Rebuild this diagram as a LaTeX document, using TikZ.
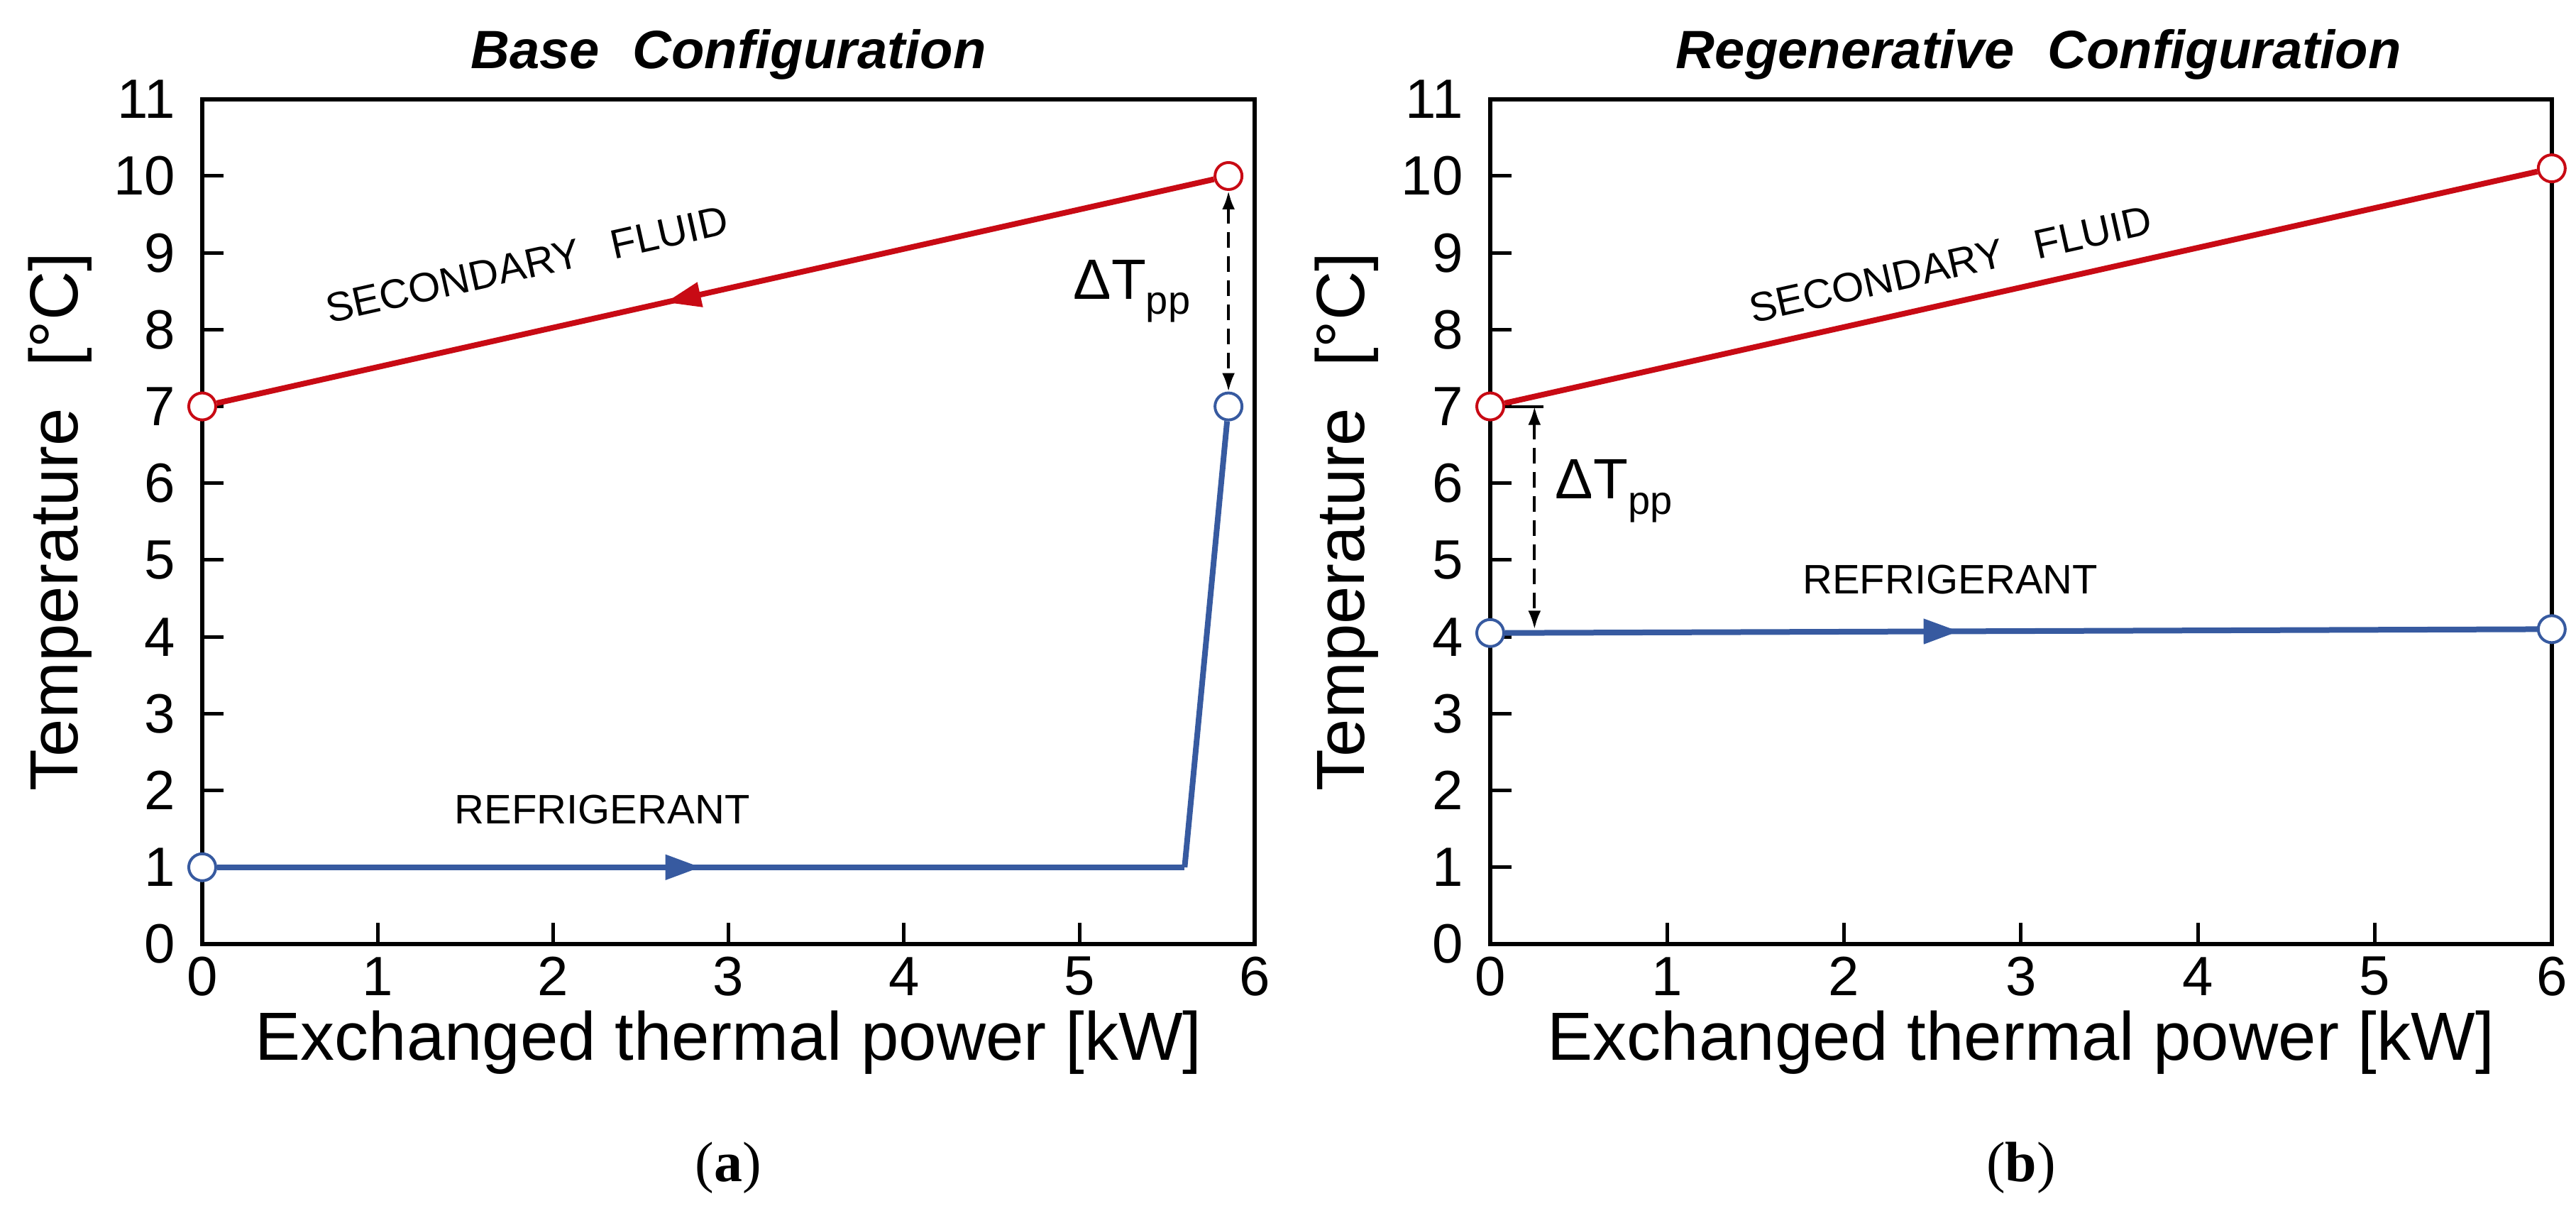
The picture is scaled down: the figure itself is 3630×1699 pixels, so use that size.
\documentclass[tikz,border=0pt]{standalone}
\usepackage{fontspec}
\setmainfont{Liberation Sans}
\newfontfamily\capfont{Liberation Serif}
\usetikzlibrary{arrows.meta,decorations.markings}
\definecolor{myred}{RGB}{200,10,20}
\definecolor{myblue}{RGB}{55,90,160}
\tikzset{
 frame/.style={line width=6pt},
 tk/.style={line width=5pt},
 sec/.style={myred,line width=8pt},
 ref/.style={myblue,line width=8pt},
 pt/.style={circle,line width=4pt,fill=white,minimum size=38pt,inner sep=0pt},
 midarrow/.style={postaction={decorate},decoration={markings,mark=at position #1 with {\arrow{Triangle[length=50pt,width=34pt]}}}},
 dtp/.style={line width=4pt,dash pattern=on 22pt off 12pt,{Latex[length=26pt,width=18pt]}-{Latex[length=26pt,width=18pt]}},
 ticklab/.style={font=\fontsize{78}{84}\selectfont},
 axlab/.style={font=\fontsize{96}{104}\selectfont},
 ttl/.style={font=\fontsize{76}{84}\selectfont\bfseries\itshape},
 curvelab/.style={font=\fontsize{58}{64}\selectfont},
 captxt/.style={font=\fontsize{80}{90}\selectfont\capfont},
}
\newcommand{\axesmine}{%
  \draw[frame] (0,0) rectangle (6,11);
  \foreach \i in {1,...,5} \draw[tk] (\i,0) -- (\i,0.28);
  \foreach \j in {1,...,10} \draw[tk] (0,\j) -- (0.12,\j);
  \foreach \i in {0,...,6} \node[ticklab] (xt\i) at (\i,-0.42) {\i};
  \foreach \j in {0,...,11} \node[ticklab,anchor=east] (yt\j) at (-0.14,\j) {\j};
  \node[axlab] (xl) at (3.0,-1.28) {Exchanged thermal power [kW]};
  \node[axlab,rotate=90] (yl) at (-0.81,5.5) {Temperature\,\, [°C]};
}
\begin{document}
\begin{tikzpicture}[x=1pt,y=1pt]
\useasboundingbox (0,0) rectangle (3630,1699);
% (a)
\begin{scope}[shift={(285,369)},x=247.2pt,y=108.2pt]
 \axesmine
 \node[ttl] (ta) at (3.0,11.58) {Base\,\, Configuration};
 \node[pt,draw=myred] (s1) at (0,7) {};
 \node[pt,draw=myred] (s2) at (5.85,10) {};
 \draw[sec,midarrow=0.55] (s2) -- (s1);
 \node[pt,draw=myblue] (r1) at (0,1) {};
 \coordinate (rk) at (5.6,1);
 \node[pt,draw=myblue] (r2) at (5.85,7) {};
 \draw[ref,midarrow=0.5] (r1) -- (rk);
 \draw[ref] (rk) -- (r2);
 \draw[dtp] (s2) -- (r2);
 \node[curvelab,rotate=12.6] (sl) at (1.85,8.85) {SECONDARY\,\,\, FLUID};
 \node[curvelab] (rl) at (2.28,1.75) {REFRIGERANT};
 \node[font=\fontsize{80}{86}\selectfont] (dl) at (5.3,8.5) {ΔT\textsubscript{pp}};
 \node[captxt] (ca) at (3.0,-2.91) {(\textbf{a})};
\end{scope}
% (b)
\begin{scope}[shift={(2100,369)},x=249.3pt,y=108.2pt]
 \axesmine
 \node[ttl] (tb) at (3.1,11.58) {Regenerative\,\, Configuration};
 \node[pt,draw=myred] (s1) at (0,7) {};
 \node[pt,draw=myred] (s2) at (6,10.1) {};
 \draw[sec] (s1) -- (s2);
 \node[pt,draw=myblue] (r1) at (0,4.05) {};
 \node[pt,draw=myblue] (r2) at (6,4.1) {};
 \draw[ref,midarrow=0.44] (r1) -- (r2);
 \coordinate (tA) at (0.3,7);
 \coordinate (dA) at (0.25,7);
 \coordinate (dB) at (0.25,4.1);
 \draw[line width=4pt] (s1) -- (tA);
 \draw[dtp] (dA) -- (dB);
 \node[curvelab,rotate=12.6] (sl) at (2.6,8.85) {SECONDARY\,\,\, FLUID};
 \node[curvelab] (rl) at (2.6,4.75) {REFRIGERANT};
 \node[font=\fontsize{80}{86}\selectfont] (dl) at (0.7,5.9) {ΔT\textsubscript{pp}};
 \node[captxt] (cb) at (3.0,-2.91) {(\textbf{b})};
\end{scope}
\end{tikzpicture}
\end{document}
